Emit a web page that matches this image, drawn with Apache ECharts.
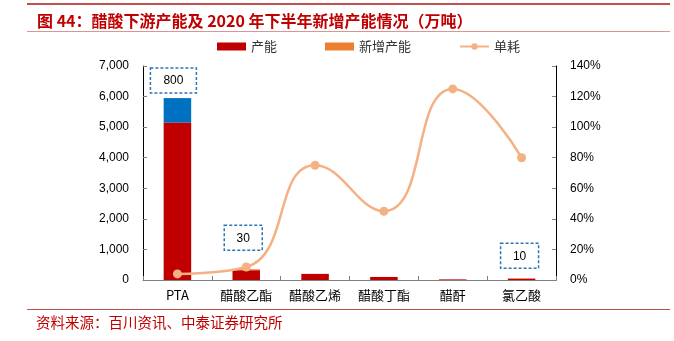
<!DOCTYPE html>
<html><head><meta charset="utf-8">
<script src="https://cdn.jsdelivr.net/npm/echarts@6/dist/echarts.min.js"></script>
<style>html,body{margin:0;padding:0;background:#fff}#c{width:674px;height:341px}</style>
</head><body><div id="c"></div>
<script>
const categories = ['PTA', '醋酸乙酯', '醋酸乙烯', '醋酸丁酯', '醋酐', '氯乙酸'];
const capacity = [5150, 320, 200, 100, 20, 45];
const newCapacity = [800, 30, 0, 0, 0, 10];
const unitUse = [4, 8.5, 75, 45, 125, 80];
const leftTicks = [0, 1000, 7000];
const rightTicks = [0, 20, 140];

const numFont = '"Liberation Sans", "Noto Sans CJK SC", sans-serif';
const cjkFont = '"Noto Sans CJK SC", sans-serif';
const boxLabel = (w, dist, off) => ({
  show: true, position: 'top', distance: dist, offset: off,
  formatter: p => String(p.value),
  color: '#000', fontSize: 12, fontFamily: numFont,
  borderColor: '#2E75B6', borderType: [3, 2], borderWidth: 1.5,
  width: w, align: 'center', padding: [6, 4, 5, 4], lineHeight: 14
});
const newData = newCapacity.map((v, i) => {
  const item = { value: v };
  if (i === 0) { item.itemStyle = { color: '#0070C0' }; item.label = boxLabel(38, 5, [-4, 0]); }
  else if (i === 1) { item.label = boxLabel(30, 19, [-3, 0]); }
  else if (i === 5) { item.label = boxLabel(30, 10, [-2, 0]); }
  return item;
});

const chart = echarts.init(document.getElementById('c'), null, { renderer: 'canvas' });
chart.setOption({
  animation: false,
  backgroundColor: '#fff',
  title: {
    text: '图 44：醋酸下游产能及 2020 年下半年新增产能情况（万吨）',
    left: 32, top: 8,
    textStyle: { color: '#C00000', fontSize: 16, fontWeight: 'bold', fontFamily: cjkFont }
  },
  graphic: [
    { type: 'rect', shape: { x: 27, y: 3, width: 643, height: 2 }, style: { fill: '#C0504D' } },
    { type: 'rect', shape: { x: 27, y: 31, width: 643, height: 1 }, style: { fill: '#D99694' } },
    { type: 'rect', shape: { x: 27, y: 309, width: 643, height: 1 }, style: { fill: '#C0504D' } },
    { type: 'text', left: 36, top: 315, style: { text: '资料来源：百川资讯、中泰证券研究所', fill: '#C00000', font: '14.5px "Noto Sans CJK SC", sans-serif' } }
  ],
  legend: {
    left: 212, top: 35, itemWidth: 29, itemHeight: 8, itemGap: 48,
    textStyle: { color: '#333', fontSize: 13, fontFamily: cjkFont },
    data: [
      { name: '产能', icon: 'rect', itemStyle: { color: '#C00000' } },
      { name: '新增产能', icon: 'rect', itemStyle: { color: '#ED7D31' } },
      { name: '单耗' }
    ]
  },
  grid: { left: 143, right: 118, top: 66, bottom: 61 },
  xAxis: {
    type: 'category', data: categories,
    axisLine: { lineStyle: { color: '#7F7F7F', width: 1 } },
    axisTick: { show: true, inside: true, length: 4, lineStyle: { color: '#7F7F7F' } },
    axisLabel: { color: '#000', fontSize: 13, margin: 9,
      fontFamily: cjkFont }
  },
  yAxis: [
    { type: 'value', min: leftTicks[0], max: leftTicks[2], interval: leftTicks[1],
      axisLine: { show: true, lineStyle: { color: '#000' } },
      axisTick: { show: true, inside: true, length: 4, lineStyle: { color: '#7F7F7F' } },
      splitLine: { show: false },
      axisLabel: { color: '#000', fontSize: 12, margin: 14, fontFamily: numFont,
        formatter: v => v.toLocaleString('en-US') } },
    { type: 'value', min: rightTicks[0], max: rightTicks[2], interval: rightTicks[1],
      axisLine: { show: true, lineStyle: { color: '#000' } },
      axisTick: { show: true, inside: true, length: 4, lineStyle: { color: '#7F7F7F' } },
      splitLine: { show: false },
      axisLabel: { color: '#000', fontSize: 12, margin: 14, fontFamily: numFont,
        formatter: v => v + '%' } }
  ],
  series: [
    { name: '产能', type: 'bar', stack: 'cap', data: capacity, barWidth: '40%',
      itemStyle: { color: '#C00000' } },
    { name: '新增产能', type: 'bar', stack: 'cap', data: newData, barWidth: '40%',
      itemStyle: { color: '#ED7D31' } },
    { name: '单耗', type: 'line', yAxisIndex: 1, data: unitUse, smooth: 0.5,
      symbol: 'circle', symbolSize: 9,
      lineStyle: { color: '#F4B183', width: 2.5 },
      itemStyle: { color: '#F4B183' } }
  ]
});
</script></body></html>
